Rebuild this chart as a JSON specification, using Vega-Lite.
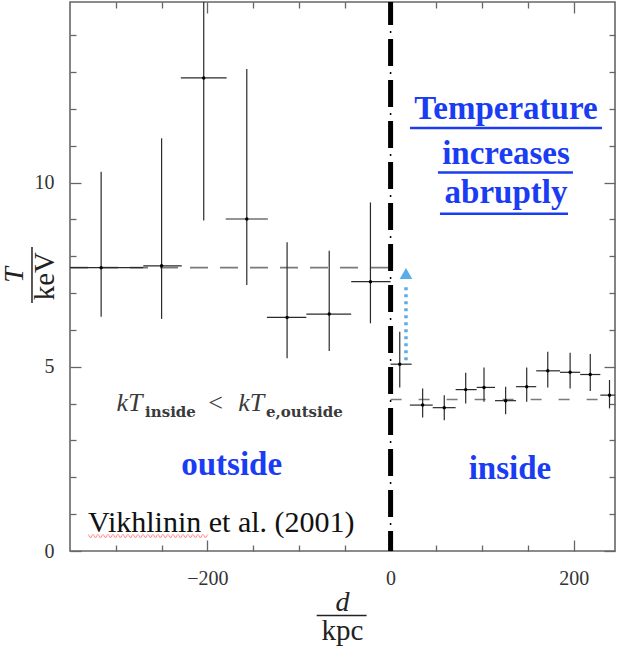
{
  "$schema": "https://vega.github.io/schema/vega-lite/v6.json",
  "width": 545,
  "height": 549,
  "autosize": "none",
  "padding": {"left": 70, "top": 2, "right": 8, "bottom": 99},
  "background": "white",
  "config": {
    "view": {"stroke": "#666666", "strokeWidth": 1.6},
    "axis": {"domain": false, "grid": false, "title": null, "tickColor": "#666666", "tickWidth": 1.3, "labelFont": "Liberation Serif", "labelFontSize": 20, "labelColor": "#333333", "labelFlush": false, "labelOverlap": false}
  },
  "datasets": {
    "bins": [
      {"d": -316, "dlo": -350, "dhi": -270, "t": 7.69, "tlo": 6.36, "thi": 10.29},
      {"d": -250, "dlo": -270, "dhi": -228, "t": 7.74, "tlo": 6.3, "thi": 11.2},
      {"d": -204, "dlo": -229, "dhi": -179, "t": 12.84, "tlo": 8.97, "thi": 16.0},
      {"d": -157, "dlo": -180, "dhi": -134, "t": 9.01, "tlo": 7.22, "thi": 13.08},
      {"d": -113, "dlo": -135, "dhi": -92, "t": 6.34, "tlo": 5.23, "thi": 8.38},
      {"d": -67, "dlo": -92, "dhi": -43, "t": 6.43, "tlo": 5.43, "thi": 8.15},
      {"d": -22, "dlo": -43, "dhi": 0, "t": 7.31, "tlo": 6.18, "thi": 9.46},
      {"d": 10, "dlo": 0, "dhi": 23, "t": 5.07, "tlo": 4.44, "thi": 5.95},
      {"d": 35, "dlo": 21, "dhi": 46, "t": 3.96, "tlo": 3.62, "thi": 4.41},
      {"d": 58.6, "dlo": 46, "dhi": 71, "t": 3.89, "tlo": 3.55, "thi": 4.23},
      {"d": 82, "dlo": 71, "dhi": 94, "t": 4.38, "tlo": 4.0, "thi": 4.84},
      {"d": 102, "dlo": 94, "dhi": 114, "t": 4.44, "tlo": 4.05, "thi": 4.98},
      {"d": 125.6, "dlo": 114, "dhi": 137, "t": 4.08, "tlo": 3.71, "thi": 4.46},
      {"d": 148.6, "dlo": 137, "dhi": 159, "t": 4.46, "tlo": 4.05, "thi": 4.98},
      {"d": 171.6, "dlo": 159, "dhi": 185, "t": 4.89, "tlo": 4.44, "thi": 5.41},
      {"d": 196, "dlo": 185, "dhi": 207, "t": 4.85, "tlo": 4.41, "thi": 5.38},
      {"d": 218, "dlo": 207, "dhi": 229, "t": 4.79, "tlo": 4.34, "thi": 5.35},
      {"d": 239, "dlo": 229, "dhi": 250, "t": 4.23, "tlo": 3.87, "thi": 4.64}
    ],
    "model": [
      {"region": "outside", "dlo": -350, "dhi": 0, "t": 7.69},
      {"region": "inside", "dlo": 0, "dhi": 245, "t": 4.11}
    ]
  },
  "data": {"values": [{}]},
  "layer": [
    {
      "layer": [
        {
          "data": {"name": "model"},
          "mark": {"type": "rule", "color": "#7a7a7a", "strokeWidth": 1.6},
          "encoding": {
            "x": {"field": "dlo", "type": "quantitative", "axis": null, "scale": {"domain": [-350, 245], "nice": false, "zero": false}},
            "x2": {"field": "dhi"},
            "y": {"field": "t", "type": "quantitative", "axis": null, "scale": {"domain": [0, 14.9], "nice": false, "zero": false}},
            "strokeDash": {"field": "region", "type": "nominal", "legend": null, "scale": {"domain": ["outside", "inside"], "range": [[18, 12], [11, 17]]}}
          }
        },
        {
          "data": {"name": "bins"},
          "mark": {"type": "rule", "color": "#2a2a2a", "strokeWidth": 1.2, "clip": true},
          "encoding": {
            "x": {"field": "d", "type": "quantitative", "axis": null},
            "y": {"field": "tlo", "type": "quantitative", "axis": null},
            "y2": {"field": "thi"}
          }
        },
        {
          "data": {"name": "bins"},
          "mark": {"type": "rule", "color": "#2a2a2a", "strokeWidth": 1.2, "clip": true},
          "encoding": {
            "x": {"field": "dlo", "type": "quantitative", "axis": null},
            "x2": {"field": "dhi"},
            "y": {"field": "t", "type": "quantitative", "axis": null}
          }
        },
        {
          "data": {"name": "bins"},
          "mark": {"type": "point", "filled": true, "color": "#000000", "size": 12, "opacity": 1},
          "encoding": {
            "x": {"field": "d", "type": "quantitative", "axis": null},
            "y": {"field": "t", "type": "quantitative", "axis": null}
          }
        },
        {
          "mark": {"type": "rule", "color": "#000000", "strokeWidth": 1.5, "strokeDash": [2, 39], "strokeDashOffset": 15},
          "encoding": {
            "x": {"datum": 0, "type": "quantitative", "axis": null},
            "y": {"datum": 0, "type": "quantitative", "axis": null},
            "y2": {"datum": 14.9}
          }
        },
        {
          "mark": {"type": "rule", "color": "#000000", "strokeWidth": 5, "strokeDash": [27, 14], "strokeDashOffset": 7},
          "encoding": {
            "x": {"datum": 0, "type": "quantitative", "axis": null},
            "y": {"datum": 0, "type": "quantitative", "axis": null},
            "y2": {"datum": 14.9}
          }
        },
        {
          "mark": {"type": "rule", "color": "#5aaee6", "strokeWidth": 3.5, "strokeDash": [3, 4]},
          "encoding": {
            "x": {"datum": 16.8, "type": "quantitative", "axis": null},
            "y": {"datum": 5.18, "type": "quantitative", "axis": null},
            "y2": {"datum": 7.27}
          }
        },
        {
          "mark": {"type": "point", "shape": "triangle-up", "filled": true, "color": "#5aaee6", "size": 160, "opacity": 1},
          "encoding": {
            "x": {"datum": 16.8, "type": "quantitative", "axis": null},
            "y": {"datum": 7.53, "type": "quantitative", "axis": null}
          }
        },
        {
          "mark": {"type": "text", "text": "Temperature", "font": "Liberation Serif", "fontWeight": "bold", "fontSize": 33, "color": "#1a3cf2", "align": "center", "baseline": "alphabetic"},
          "encoding": {"x": {"datum": 126, "type": "quantitative", "axis": null}, "y": {"datum": 11.72, "type": "quantitative", "axis": null}}
        },
        {
          "mark": {"type": "text", "text": "increases", "font": "Liberation Serif", "fontWeight": "bold", "fontSize": 33, "color": "#1a3cf2", "align": "center", "baseline": "alphabetic"},
          "encoding": {"x": {"datum": 126, "type": "quantitative", "axis": null}, "y": {"datum": 10.51, "type": "quantitative", "axis": null}}
        },
        {
          "mark": {"type": "text", "text": "abruptly", "font": "Liberation Serif", "fontWeight": "bold", "fontSize": 33, "color": "#1a3cf2", "align": "center", "baseline": "alphabetic"},
          "encoding": {"x": {"datum": 126, "type": "quantitative", "axis": null}, "y": {"datum": 9.44, "type": "quantitative", "axis": null}}
        },
        {
          "mark": {"type": "rule", "color": "#1a3cf2", "strokeWidth": 2.5},
          "encoding": {"x": {"datum": 21.2, "type": "quantitative", "axis": null}, "x2": {"datum": 230.8}, "y": {"datum": 11.48, "type": "quantitative", "axis": null}}
        },
        {
          "mark": {"type": "rule", "color": "#1a3cf2", "strokeWidth": 2.5},
          "encoding": {"x": {"datum": 51.7, "type": "quantitative", "axis": null}, "x2": {"datum": 199.1}, "y": {"datum": 10.27, "type": "quantitative", "axis": null}}
        },
        {
          "mark": {"type": "rule", "color": "#1a3cf2", "strokeWidth": 2.5},
          "encoding": {"x": {"datum": 53.9, "type": "quantitative", "axis": null}, "x2": {"datum": 193.7}, "y": {"datum": 9.15, "type": "quantitative", "axis": null}}
        },
        {
          "mark": {"type": "text", "text": "outside", "font": "Liberation Serif", "fontWeight": "bold", "fontSize": 33, "color": "#1a3cf2", "align": "center", "baseline": "alphabetic"},
          "encoding": {"x": {"datum": -173.5, "type": "quantitative", "axis": null}, "y": {"datum": 2.06, "type": "quantitative", "axis": null}}
        },
        {
          "mark": {"type": "text", "text": "inside", "font": "Liberation Serif", "fontWeight": "bold", "fontSize": 33, "color": "#1a3cf2", "align": "center", "baseline": "alphabetic"},
          "encoding": {"x": {"datum": 130.3, "type": "quantitative", "axis": null}, "y": {"datum": 1.95, "type": "quantitative", "axis": null}}
        },
        {
          "mark": {"type": "text", "text": "kT", "font": "Liberation Serif", "fontStyle": "italic", "fontSize": 26, "color": "#3a3a3a", "align": "left", "baseline": "alphabetic"},
          "encoding": {"x": {"datum": -299.2, "type": "quantitative", "axis": null}, "y": {"datum": 3.8, "type": "quantitative", "axis": null}}
        },
        {
          "mark": {"type": "text", "text": "inside", "font": "DejaVu Serif", "fontWeight": "bold", "fontSize": 15, "color": "#3a3a3a", "align": "left", "baseline": "alphabetic"},
          "encoding": {"x": {"datum": -268, "type": "quantitative", "axis": null}, "y": {"datum": 3.63, "type": "quantitative", "axis": null}}
        },
        {
          "mark": {"type": "text", "text": "<", "font": "Liberation Serif", "fontSize": 26, "color": "#3a3a3a", "align": "left", "baseline": "alphabetic"},
          "encoding": {"x": {"datum": -199, "type": "quantitative", "axis": null}, "y": {"datum": 3.8, "type": "quantitative", "axis": null}}
        },
        {
          "mark": {"type": "text", "text": "kT", "font": "Liberation Serif", "fontStyle": "italic", "fontSize": 26, "color": "#3a3a3a", "align": "left", "baseline": "alphabetic"},
          "encoding": {"x": {"datum": -166.4, "type": "quantitative", "axis": null}, "y": {"datum": 3.8, "type": "quantitative", "axis": null}}
        },
        {
          "mark": {"type": "text", "text": "e,outside", "font": "DejaVu Serif", "fontWeight": "bold", "fontSize": 15, "color": "#3a3a3a", "align": "left", "baseline": "alphabetic"},
          "encoding": {"x": {"datum": -136, "type": "quantitative", "axis": null}, "y": {"datum": 3.63, "type": "quantitative", "axis": null}}
        },
        {
          "mark": {"type": "text", "text": "Vikhlinin et al. (2001)", "font": "Liberation Serif", "fontSize": 30, "color": "#111111", "align": "left", "baseline": "alphabetic"},
          "encoding": {"x": {"datum": -330.3, "type": "quantitative", "axis": null}, "y": {"datum": 0.52, "type": "quantitative", "axis": null}}
        },
        {
          "mark": {"type": "text", "text": "〰〰〰〰〰〰〰〰〰〰〰〰", "font": "Noto Sans CJK SC", "fontSize": 10, "color": "#ff4a4a", "align": "left", "baseline": "middle"},
          "encoding": {"x": {"datum": -330.3, "type": "quantitative", "axis": null}, "y": {"datum": 0.37, "type": "quantitative", "axis": null}}
        },
        {
          "mark": {"type": "text", "text": "d", "font": "Liberation Serif", "fontStyle": "italic", "fontSize": 28, "color": "#222222", "align": "center", "baseline": "alphabetic"},
          "encoding": {"x": {"datum": -52.5, "type": "quantitative", "axis": null}, "y": {"datum": -1.64, "type": "quantitative", "axis": null}}
        },
        {
          "mark": {"type": "rule", "color": "#222222", "strokeWidth": 1.5},
          "encoding": {"x": {"datum": -80.7, "type": "quantitative", "axis": null}, "x2": {"datum": -26.2}, "y": {"datum": -1.75, "type": "quantitative", "axis": null}}
        },
        {
          "mark": {"type": "text", "text": "kpc", "font": "Liberation Serif", "fontSize": 29, "color": "#222222", "align": "center", "baseline": "alphabetic"},
          "encoding": {"x": {"datum": -52.5, "type": "quantitative", "axis": null}, "y": {"datum": -2.42, "type": "quantitative", "axis": null}}
        },
        {
          "mark": {"type": "text", "text": "T", "font": "Liberation Serif", "fontStyle": "italic", "fontSize": 28, "color": "#222222", "align": "center", "baseline": "middle", "angle": 270},
          "encoding": {"x": {"datum": -410, "type": "quantitative", "axis": null}, "y": {"datum": 7.49, "type": "quantitative", "axis": null}}
        },
        {
          "mark": {"type": "rule", "color": "#222222", "strokeWidth": 1.5},
          "encoding": {"x": {"datum": -391.5, "type": "quantitative", "axis": null}, "y": {"datum": 6.73, "type": "quantitative", "axis": null}, "y2": {"datum": 8.25}}
        },
        {
          "mark": {"type": "text", "text": "keV", "font": "Liberation Serif", "fontSize": 29, "color": "#222222", "align": "center", "baseline": "middle", "angle": 270},
          "encoding": {"x": {"datum": -377.3, "type": "quantitative", "axis": null}, "y": {"datum": 7.46, "type": "quantitative", "axis": null}}
        }
      ]
    },
    {
      "mark": {"type": "point", "opacity": 0},
      "encoding": {
        "x": {"datum": 0, "type": "quantitative", "scale": {"domain": [-350, 245], "nice": false, "zero": false}, "axis": {"orient": "bottom", "values": [-200, 0, 200], "tickSize": -11, "labelPadding": 28}},
        "y": {"datum": 0, "type": "quantitative", "scale": {"domain": [0, 14.9], "nice": false, "zero": false}, "axis": {"orient": "left", "values": [0, 5, 10], "tickSize": -11, "labelPadding": 27}}
      }
    },
    {
      "mark": {"type": "point", "opacity": 0},
      "encoding": {
        "x": {"datum": 0, "type": "quantitative", "axis": {"orient": "bottom", "values": [-300, -250, -150, -100, -50, 50, 100, 150], "tickSize": -6, "labels": false}},
        "y": {"datum": 0, "type": "quantitative", "axis": {"orient": "left", "values": [1, 2, 3, 4, 6, 7, 8, 9, 11, 12, 13, 14], "tickSize": -6, "labels": false}}
      }
    },
    {
      "mark": {"type": "point", "opacity": 0},
      "encoding": {
        "x": {"datum": 0, "type": "quantitative", "axis": {"orient": "top", "values": [-200, 0, 200], "tickSize": -11, "labels": false}},
        "y": {"datum": 0, "type": "quantitative", "axis": {"orient": "right", "values": [0, 5, 10], "tickSize": -11, "labels": false}}
      }
    },
    {
      "mark": {"type": "point", "opacity": 0},
      "encoding": {
        "x": {"datum": 0, "type": "quantitative", "axis": {"orient": "top", "values": [-300, -250, -150, -100, -50, 50, 100, 150], "tickSize": -6, "labels": false}},
        "y": {"datum": 0, "type": "quantitative", "axis": {"orient": "right", "values": [1, 2, 3, 4, 6, 7, 8, 9, 11, 12, 13, 14], "tickSize": -6, "labels": false}}
      }
    }
  ],
  "resolve": {"axis": {"x": "independent", "y": "independent"}}
}
